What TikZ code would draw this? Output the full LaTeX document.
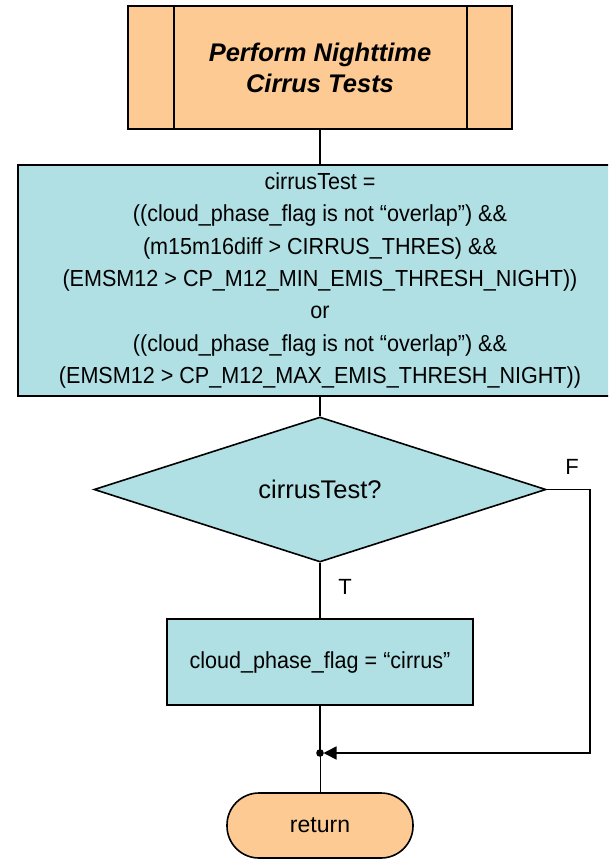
\documentclass[tikz,border=0pt]{standalone}
\usepackage{fontspec}
\setmainfont{Liberation Sans}
\newfontfamily\narrowsans[FakeStretch=0.93]{Liberation Sans}
\usetikzlibrary{shapes.geometric,arrows.meta}
\definecolor{procorange}{RGB}{252,202,146}
\definecolor{stepcyan}{RGB}{176,224,228}
\tikzset{
  boxline/.style={draw=black,line width=1.6pt},
  orangebox/.style={boxline,fill=procorange,rectangle,inner sep=0pt},
  cyanbox/.style={boxline,fill=stepcyan,rectangle,inner sep=0pt},
  decision/.style={boxline,fill=stepcyan,diamond,inner sep=0pt},
  link/.style={draw=black,line width=1.3pt},
  branchlabel/.style={font=\fontsize{22}{26}\selectfont,inner sep=0pt},
}
\begin{document}
\begin{tikzpicture}[x=1pt,y=-1pt]
\clip (0,0) rectangle (608,866);
\useasboundingbox (0,0) rectangle (608,866);
\fill[white] (0,0) rectangle (608,866);

% predefined process
\node[orangebox,minimum width=384,minimum height=123,align=center,
      font=\fontsize{25.5}{31}\selectfont\bfseries\itshape] (start) at (320,67.5)
  {Perform Nighttime\\Cirrus Tests};
\draw[boxline] ([xshift=47]start.north west) -- ([xshift=47]start.south west);
\draw[boxline] ([xshift=-46]start.north east) -- ([xshift=-46]start.south east);

% test expression
\node[cyanbox,minimum width=604,minimum height=231,align=center,
      font=\narrowsans\fontsize{23.2}{32.3}\selectfont] (expr) at (320,280.5)
  {cirrusTest =\\
   ((cloud\_phase\_flag is not “overlap”) \&\&\\
   (m15m16diff > CIRRUS\_THRES) \&\&\\
   (EMSM12 > CP\_M12\_MIN\_EMIS\_THRESH\_NIGHT))\\
   or\\
   ((cloud\_phase\_flag is not “overlap”) \&\&\\
   (EMSM12 > CP\_M12\_MAX\_EMIS\_THRESH\_NIGHT))};

% decision
\node[decision,minimum width=452,minimum height=145,
      font=\fontsize{25.5}{30}\selectfont] (dec) at (320,489.5) {cirrusTest?};

% assignment
\node[cyanbox,minimum width=306,minimum height=86,
      font=\narrowsans\fontsize{23.2}{28}\selectfont] (assign) at (320,662)
  {cloud\_phase\_flag = “cirrus”};

% terminal
\node[orangebox,rounded corners=32pt,minimum width=186,minimum height=65,
      font=\fontsize{23}{28}\selectfont] (ret) at (320,825.5) {return};

\coordinate (join) at (320,753);
\coordinate (rightturn) at (590,489.5);

% connectors
\draw[link] (start.south) -- (expr.north);
\draw[link] (expr.south) -- (dec.north);
\draw[link] (dec.south) -- (assign.north);
\draw[link] (assign.south) -- (join);
\draw[draw=black,line width=1pt] (join) -- (ret.north);
\draw[link,line width=1.6pt,-{Triangle[length=13pt,width=13pt]},shorten >=3.5pt]
  (dec.east) -- (rightturn) |- (join);
\fill (join) circle (3.8pt);

% branch labels
\node[branchlabel] (tlabel) at (345,587) {T};
\node[branchlabel] (flabel) at (572,467) {F};
\end{tikzpicture}
\end{document}
